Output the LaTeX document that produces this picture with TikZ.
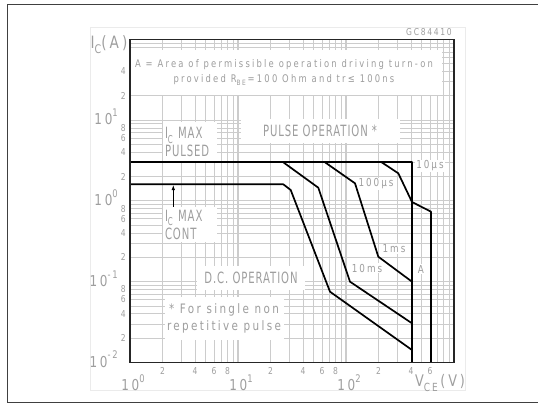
\documentclass[tikz,border=0pt]{standalone}
\usepackage{fontspec}
\usepackage{xcolor}
\usetikzlibrary{arrows.meta}

\newfontfamily\capfont[FakeStretch=0.65,LetterSpace=6]{DejaVu Sans}
\newfontfamily\cadfont[FakeStretch=0.8,LetterSpace=18]{DejaVu Sans}
\newfontfamily\notefont[FakeStretch=0.8,LetterSpace=21]{DejaVu Sans}
\newcommand{\lowtxt}[1]{\raisebox{-0.3em}{\scalebox{0.7}{#1}}}
\newcommand{\hightxt}[1]{\raisebox{0.55em}{\scalebox{0.7}{#1}}}

\definecolor{gridgray}{gray}{0.80}
\definecolor{txtgray}{gray}{0.62}

\begin{document}
\begin{tikzpicture}[x=1pt,y=-1pt,
    gridline/.style={gridgray,line width=0.5pt},
    decade/.style={gridgray,line width=1.1pt},
    curve/.style={black,line width=1.7pt,line join=round},
    capbox/.style={fill=white,text=txtgray,inner sep=2pt,font=\capfont\fontsize{15.5}{18}\selectfont},
    notebox/.style={fill=white,text=txtgray,inner sep=1pt,font=\notefont\fontsize{10.5}{15}\selectfont},
    timelbl/.style={fill=white,text=txtgray,inner sep=1pt,font=\cadfont\fontsize{11}{13}\selectfont},
    ticklbl/.style={text=txtgray,inner sep=0pt,font=\cadfont\fontsize{9.5}{10}\selectfont},
    declbl/.style={text=txtgray,inner sep=0pt,font=\cadfont\fontsize{15}{16}\selectfont}]
\useasboundingbox (0,0) rectangle (538,404);

% page frame and picture border
\draw[black!75,line width=1.5pt] (538,4.3) -- (7.3,4.3) -- (7.3,402.7) -- (538,402.7);
\draw[black!8,line width=0.6pt] (90,27) rectangle (465,390);

% log grid, x: 10^0..10^3 over 130..454, y: 10^-2..10^2 over 362.3..39.3
\foreach \d in {0,1,2}
  \foreach \k in {2,...,9}
    \draw[gridline] ({130+108*(\d+log10(\k))},39.3) -- ++(0,323);
\foreach \d in {1,2}
  \draw[decade] ({130+108*\d},39.3) -- ++(0,323);
\foreach \d in {0,...,3}
  \foreach \k in {2,...,9}
    \draw[gridline] (130,{362.3-80.75*(\d+log10(\k))}) -- ++(324,0);
\foreach \d in {1,2,3}
  \draw[decade] (130,{362.3-80.75*\d}) -- ++(324,0);

% text boxes over the grid
\node[notebox,minimum width=316pt,minimum height=45pt,align=center] (note) at (284,72.5)
  {A = Area of permissible operation driving turn-on\\
   provided R\lowtxt{BE}\,=100 Ohm and tr≤ 100ns};
\node[capbox,text width=50pt,minimum height=40pt,align=left] (pulsedlbl) at (190,142)
  {I\lowtxt{C} MAX\\PULSED};
\node[capbox,minimum width=159pt,minimum height=24pt] (pulselbl) at (320,131)
  {PULSE OPERATION *};
\node[capbox,text width=50pt,minimum height=35pt,align=left] (contlbl) at (190,224.5)
  {I\lowtxt{C} MAX\\CONT};
\node[capbox,minimum width=108pt,minimum height=24pt] (dclbl) at (251,278)
  {D.C. OPERATION};
\node[notebox,font=\cadfont\fontsize{13}{17}\selectfont,minimum width=119pt,minimum height=43pt,align=center] (singlelbl) at (224,318.5)
  {* For single non\\repetitive pulse};

% SOA boundaries
\draw[curve] (130,162.3) -- (412,162.3) -- (412,362.3);
\draw[curve] (130,184.3) -- (283.3,184.3) -- (290.7,190) -- (330,291.7) -- (412,350);
\draw[curve] (283.3,162.3) -- (318.3,187.7) -- (350,281.7) -- (412,323.3);
\draw[curve] (325,162.3) -- (355,183.3) -- (378.3,256.7) -- (412,281.7);
\draw[curve] (381.7,162.3) -- (398.3,173.3) -- (412,202) -- (431,211.7) -- (431,362.3);

% curve labels
\node[timelbl] (t10us) at (430,166) {10µs};
\node[timelbl] (t100us) at (376,184) {100µs};
\node[timelbl] (t1ms) at (394,249) {1ms};
\node[timelbl] (t10ms) at (367,268) {10ms};
\node[timelbl] (areaA) at (421,269) {A};

% Ic max cont pointer
\coordinate (contline) at (173.3,185);
\draw[black,line width=0.8pt,-{Latex[length=5pt,width=3.5pt]}] (contlbl.north -| contline) -- (contline);

% plot frame
\draw[black!85,line width=1.3pt] (130,39.3) rectangle (454,362.3);

% axis labels
\node[declbl,font=\cadfont\fontsize{17}{18}\selectfont] (ylbl) at (109,45) {I\lowtxt{C}(A)};
\node[ticklbl,font=\cadfont\fontsize{9.5}{10}\selectfont] (code) at (429,32) {GC84410};
\node[declbl,font=\cadfont\fontsize{16}{18}\selectfont] (xlbl) at (440,383) {V\lowtxt{CE}\,(V)};

\foreach \d/\e in {1/1,2/0,3/-1,4/-2}
  \node[declbl,anchor=east] (ydec\d) at (118,{362.3-80.75*(4-\d)-3}) {10\hightxt{\e}};
\foreach \d in {0,1,2}
  \foreach \k in {2,4,6,8}
    \node[ticklbl,anchor=east] at (126,{362.3-80.75*(\d+log10(\k))}) {\k};
\foreach \k in {2,4}
  \node[ticklbl,anchor=east] at (126,{362.3-80.75*(3+log10(\k))}) {\k};

\foreach \d in {0,1,2}
  \node[declbl] (xdec\d) at ({133+108*\d},383) {10\hightxt{\d}};
\foreach \k in {2,4,6,8}
  \foreach \d in {0,1}
    \node[ticklbl] at ({130+108*(\d+log10(\k))},371) {\k};
\foreach \k in {2,4,6}
  \node[ticklbl] at ({130+108*(2+log10(\k))},371) {\k};

\end{tikzpicture}
\end{document}
